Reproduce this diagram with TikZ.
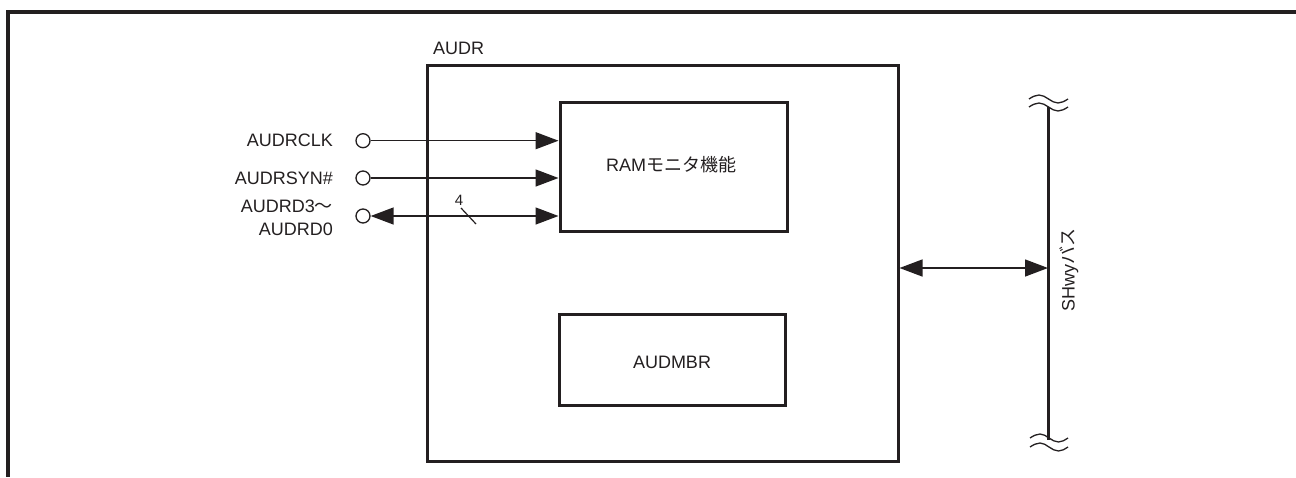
\documentclass[tikz,border=0pt]{standalone}
\usepackage{fontspec}
\setmainfont{Liberation Sans}
\newfontfamily\cjk{Noto Sans CJK JP}
\usetikzlibrary{arrows.meta}
\definecolor{ink}{HTML}{231F20}
\tikzset{
  blk/.style={draw=ink, line width=3pt, minimum width=#1, inner sep=0pt},
  sig/.style={draw=ink, line width=1.4pt},
  pin/.style={circle, draw=ink, line width=1.3pt, minimum size=14pt, inner sep=0pt, fill=white},
  tip/.style={-{Triangle[length=23pt,width=17pt]}},
  dtip/.style={{Triangle[length=23pt,width=17pt]}-{Triangle[length=23pt,width=17pt]}},
  lbl/.style={text=ink, inner sep=0pt},
  wave/.style={draw=ink, line width=1.3pt},
}
\begin{document}
\begin{tikzpicture}[x=1pt, y=-1pt, font=\fontsize{18}{21}\selectfont]
\useasboundingbox (0,0) rectangle (1296,477);
% outer frame
\draw[ink, line width=3.5pt] (1296,12) -- (8,12) -- (8,477);
% main blocks
\node[blk=471, minimum height=396] (audr) at (662.5,263) {};
\node[lbl, anchor=base west] (audrl) at (433,54) {AUDR};
\node[blk=227, minimum height=128.5] (ram) at (673.5,166.75) {};
\node[lbl] (ramt) at (671,165) {RAM\cjk{モニタ機能}};
\node[blk=226, minimum height=91] (mbr) at (672,359.5) {};
\node[lbl] (mbrt) at (672,362) {AUDMBR};
% pins
\node[pin] (c1) at (363,140.7) {};
\node[pin] (c2) at (363,178) {};
\node[pin] (c3) at (363,216) {};
\node[lbl, anchor=east] (l1) at (333,140.5) {AUDRCLK};
\node[lbl, anchor=east] (l2) at (333,178) {AUDRSYN\#};
\node[lbl, anchor=east, align=right, font=\fontsize{18}{22.5}\selectfont] (l3) at (333,218) {AUDRD3\cjk{～}\\AUDRD0};
\draw[sig, tip] (c1) -- (c1 -| ram.west);
\draw[sig, tip] (c2) -- (c2 -| ram.west);
\draw[sig, dtip] (c3) -- (c3 -| ram.west);
\coordinate (s1) at (461,208);
\coordinate (s2) at (476,224);
\draw[sig, line width=1.2pt] (s1) -- (s2);
\node[lbl, font=\fontsize{15}{18}\selectfont] (four) at (459,200) {4};
% bus
\coordinate (bt) at (1048,107);
\coordinate (bb) at (1048,440);
\coordinate (bm) at (1048,268);
\draw[ink, line width=3pt] (bt) -- (bb);
\draw[sig, dtip] (audr.east |- bm) -- (bm);
\draw[wave] (1029,99) sin (1039,95) cos (1048.5,99) sin (1058,103) cos (1068,99);
\draw[wave] (1029,107) sin (1039,103) cos (1048.5,107) sin (1058,111) cos (1068,107);
\draw[wave] (1030,438) sin (1040,434) cos (1049,438) sin (1058.5,442) cos (1068,438);
\draw[wave] (1030,447) sin (1040,443) cos (1049,447) sin (1058.5,451) cos (1068,447);
\node[lbl, rotate=90] (bus) at (1069,270) {SHwy\cjk{バス}};
\end{tikzpicture}
\end{document}
